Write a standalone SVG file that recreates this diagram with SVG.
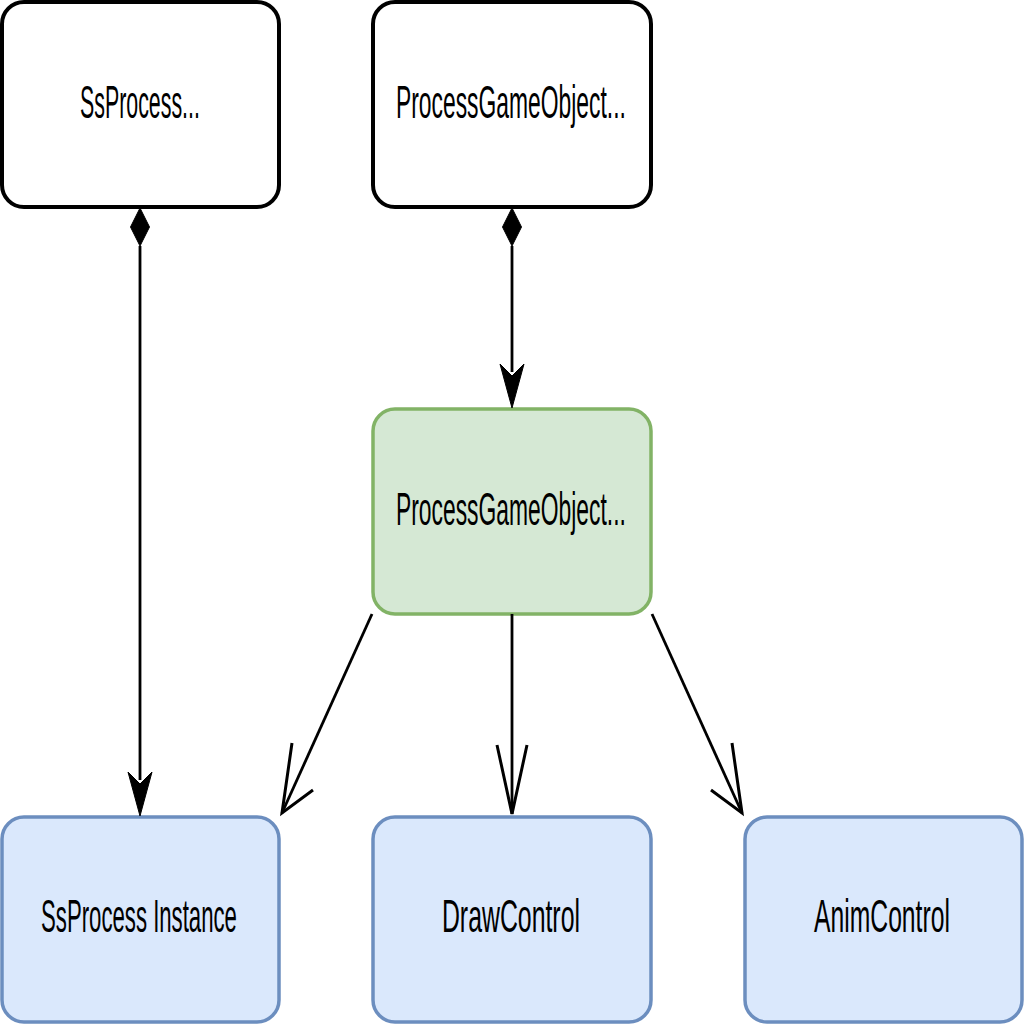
<svg xmlns="http://www.w3.org/2000/svg" width="1024" height="1024" viewBox="0 0 1024 1024">
<style>
.plain{fill:#ffffff;stroke:#000000;stroke-width:4}
.green{fill:#d5e8d4;stroke:#82b366;stroke-width:3.5}
.blue{fill:#dae8fc;stroke:#6c8ebf;stroke-width:3.5}
.lbl{font-family:"Liberation Sans","DejaVu Sans",sans-serif;font-size:47px;fill:#000000;text-anchor:middle}
.edge{fill:none;stroke:#000000;stroke-width:2.8}
.head{fill:#000000;stroke:#000000;stroke-width:1}
.open{fill:none;stroke:#000000;stroke-width:3}
</style>
<rect width="1024" height="1024" fill="#ffffff"/>
<g id="node-ssprocess">
<rect class="plain" x="2" y="2" width="277" height="205" rx="22" ry="22"/>
<text class="lbl" transform="scale(0.55,1)" x="254.5" y="118" textLength="218" lengthAdjust="spacingAndGlyphs">SsProcess...</text>
</g>
<g id="node-pgo-top">
<rect class="plain" x="373" y="2" width="278" height="205" rx="22" ry="22"/>
<text class="lbl" transform="scale(0.55,1)" x="929" y="118" textLength="418" lengthAdjust="spacingAndGlyphs">ProcessGameObject...</text>
</g>
<g id="node-pgo-mid">
<rect class="green" x="373" y="409" width="278" height="205" rx="22" ry="22"/>
<text class="lbl" transform="scale(0.55,1)" x="929" y="525" textLength="418" lengthAdjust="spacingAndGlyphs">ProcessGameObject...</text>
</g>
<g id="node-instance">
<rect class="blue" x="2" y="817" width="277" height="205" rx="22" ry="22"/>
<text class="lbl" transform="scale(0.55,1)" x="252.7" y="932" textLength="356" lengthAdjust="spacingAndGlyphs">SsProcess Instance</text>
</g>
<g id="node-draw">
<rect class="blue" x="373" y="817" width="278" height="205" rx="22" ry="22"/>
<text class="lbl" transform="scale(0.55,1)" x="929" y="932" textLength="251" lengthAdjust="spacingAndGlyphs">DrawControl</text>
</g>
<g id="node-anim">
<rect class="blue" x="745" y="817" width="277" height="205" rx="22" ry="22"/>
<text class="lbl" transform="scale(0.55,1)" x="1603.6" y="932" textLength="247" lengthAdjust="spacingAndGlyphs">AnimControl</text>
</g>
<g id="connectors">
<line class="edge" x1="140" y1="246" x2="140" y2="780"/>
<path class="head" d="M140,208 L149.5,227 L140,246 L130.5,227 Z"/>
<path class="head" d="M140,816 L128,772 L140,784 L152,772 Z"/>
<line class="edge" x1="512" y1="246" x2="512" y2="372"/>
<path class="head" d="M512,208 L521.5,227 L512,246 L502.5,227 Z"/>
<path class="head" d="M512,408 L500,364 L512,376 L524,364 Z"/>
<line class="edge" x1="372" y1="614" x2="282" y2="813"/>
<path class="open" d="M292,743 L282,813 L313,790"/>
<line class="edge" x1="512" y1="614" x2="512" y2="814"/>
<path class="open" d="M497,745 L512,814 L527,745"/>
<line class="edge" x1="652" y1="614" x2="742" y2="813"/>
<path class="open" d="M732,743 L742,813 L711,790"/>
</g>
</svg>
